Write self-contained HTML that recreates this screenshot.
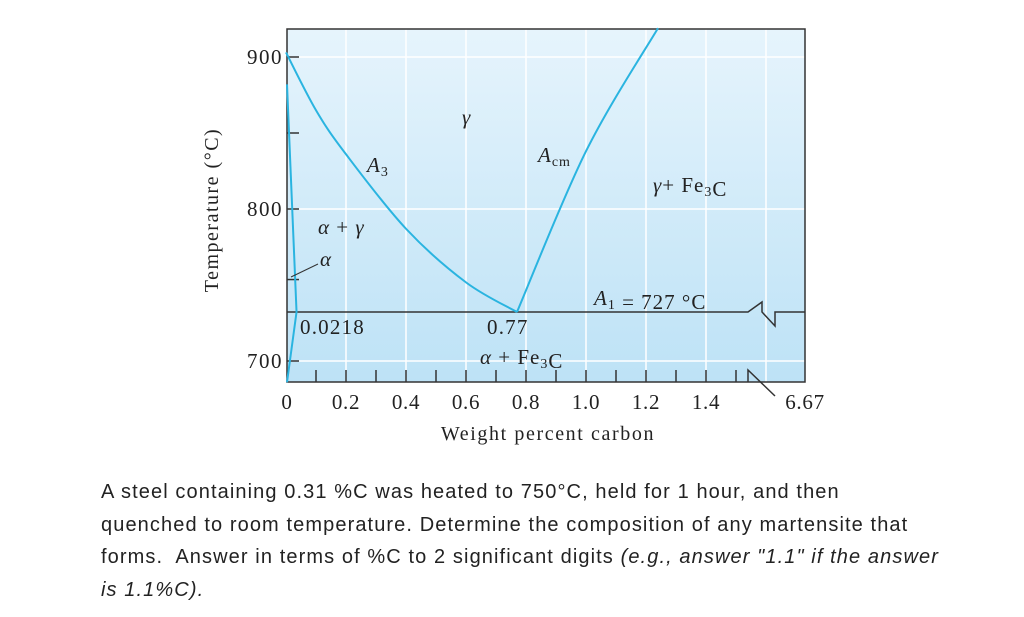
<!DOCTYPE html>
<html><head><meta charset="utf-8"><style>
body{margin:0;background:#fff;width:1024px;height:617px;overflow:hidden;position:relative}
svg{position:absolute;left:0;top:0}
.q{position:absolute;left:101px;top:476px;width:900px;font-family:"Liberation Sans",sans-serif;font-size:20px;letter-spacing:1.1px;line-height:32.5px;color:#222;white-space:nowrap}
</style></head><body>
<svg width="1024" height="470" font-family="Liberation Serif, serif">
<defs><linearGradient id="bg" x1="0" y1="0" x2="0" y2="1"><stop offset="0" stop-color="#e6f4fc"/><stop offset="1" stop-color="#bde2f6"/></linearGradient></defs>
<g id="plot"></g>
</svg>
<div class="q">A steel containing 0.31 %C was heated to 750°C, held for 1 hour, and then<br>quenched to room temperature. Determine the composition of any martensite that<br>forms.&nbsp; Answer in terms of %C to 2 significant digits <i>(e.g., answer "1.1" if the answer<br>is 1.1%C).</i></div>
<script>
const yTicks=[700,800,900];
const xTicks=[0,0.2,0.4,0.6,0.8,1.0,1.2,1.4];
const a3C=[0,0.1,0.2,0.4,0.6,0.77];
const a3T=[903,865,836,786,748,727];
const acmC=[0.77,1.0,1.24];
const acmT=[727,838,919];
const alphaC=[0,0.0218,0];
const alphaT=[882,727,686];
const eutectoidT=727;
const X=c=>286+300*c;
// piecewise-linear temperature axis (source diagram is not linear)
const yKnotsT=[600,700,727,800,1000];
const yKnotsP=[513,361,312,209,-95];
const Y=t=>{for(let i=0;i<yKnotsT.length-1;i++){if(t<=yKnotsT[i+1]||i===yKnotsT.length-2){const f=(t-yKnotsT[i])/(yKnotsT[i+1]-yKnotsT[i]);return yKnotsP[i]+f*(yKnotsP[i+1]-yKnotsP[i]);}}};
const L=287,R=805,T=29,B=382;
const g=document.getElementById('plot');
const NS='http://www.w3.org/2000/svg';
function mk(tag,attrs,text,parent){const e=document.createElementNS(NS,tag);for(const k in attrs)e.setAttribute(k,attrs[k]);if(text!==undefined)e.textContent=text;(parent||g).appendChild(e);return e;}
let e;
e=mk('rect',{x:L,y:T,width:R-L,height:B-T,fill:'url(#bg)'});


for(let c=0.2;c<1.7;c+=0.2){e=mk('line',{x1:X(c),x2:X(c),y1:T,y2:B,stroke:'#fff','stroke-width':1.5});

}
yTicks.forEach(t=>{e=mk('line',{x1:L,x2:R,y1:Y(t),y2:Y(t),stroke:'#fff','stroke-width':1.5});


e=mk('line',{x1:L,x2:L+12,y1:Y(t),y2:Y(t),stroke:'#333','stroke-width':1.5});


e=mk('text',{x:L-4,y:Y(t)+7,'text-anchor':'end','font-size':21,'letter-spacing':1.5,fill:'#222'},String(t));

});
[750,850].forEach(t=>{e=mk('line',{x1:L,x2:L+12,y1:Y(t),y2:Y(t),stroke:'#333','stroke-width':1.5});

});
for(let i=1;i<=15;i++){e=mk('line',{x1:X(i/10),x2:X(i/10),y1:B,y2:B-12,stroke:'#333','stroke-width':1.5});

}
xTicks.forEach(c=>{e=mk('text',{x:X(c)+(c===0?1:0),y:409,'text-anchor':'middle','font-size':21,'letter-spacing':0.7,fill:'#222'},c===0?'0':c.toFixed(1));

});
e=mk('text',{x:805,y:409,'text-anchor':'middle','font-size':21,'letter-spacing':0.7,fill:'#222'},'6.67');


function poly(cs,ts,name){const pts=cs.map((c,i)=>[X(c),Y(ts[i])]);
let d='M'+pts[0].join(',');
for(let i=1;i<pts.length;i++){const p0=pts[Math.max(0,i-2)],p1=pts[i-1],p2=pts[i],p3=pts[Math.min(pts.length-1,i+1)];
d+=` C${p1[0]+(p2[0]-p0[0])/6},${p1[1]+(p2[1]-p0[1])/6} ${p2[0]-(p3[0]-p1[0])/6},${p2[1]-(p3[1]-p1[1])/6} ${p2[0]},${p2[1]}`;}
e=mk('path',{d:d,fill:'none',stroke:'#2ab4e0','stroke-width':2});

}
const ey=Y(eutectoidT);
e=mk('path',{d:`M${L},${ey} H748 L762,${ey-10} L762,${ey} L775,${ey+14} L775,${ey} H${R}`,fill:'none',stroke:'#333','stroke-width':1.5});


e=mk('path',{d:`M748,${B} L748,${B-12} L775,${B+14}`,fill:'none',stroke:'#333','stroke-width':1.5});


e=mk('rect',{x:L,y:T,width:R-L,height:B-T,fill:'none',stroke:'#333','stroke-width':1.5});


poly(a3C,a3T,'a3-curve');
poly(acmC,acmT,'acm-curve');
e=mk('polyline',{points:alphaC.map((c,i)=>(X(c)+(i===1?4:1))+','+Y(alphaT[i])).join(' '),fill:'none',stroke:'#2ab4e0','stroke-width':2});


e=mk('line',{x1:291,y1:277,x2:318,y2:264,stroke:'#333','stroke-width':1});


const labels=[
[462,124,[['γ',1]],'gamma-label'],
[367,172,[['A',1],['3',0,1]],'a3-label'],
[538,162,[['A',1],['cm',0,1]],'acm-label'],
[653,192,[['γ',1],['+ Fe',0],['3',0,1],['C',0]],'gamma-fe3c-label'],
[318,234,[['α',1],[' + ',0],['γ',1]],'alpha-gamma-label'],
[320,266,[['α',1]],'alpha-label'],
[594,305,[['A',1],['1',0,1],[' = 727 °C',0]],'a1-label'],
[480,364,[['α',1],[' + Fe',0],['3',0,1],['C',0]],'alpha-fe3c-label']];
labels.forEach(l=>{e=mk('text',{x:l[0],y:l[1],'font-size':21,'letter-spacing':1,fill:'#222'});


l[2].forEach(p=>{const a={};if(p[1])a['font-style']='italic';if(p[2]){a['font-size']=14;a['dy']=4;}mk('tspan',a,p[0],e);if(p[2]){mk('tspan',{dy:-4},'',e);}});});
e=mk('text',{x:300,y:334,'font-size':21,'letter-spacing':1.2,fill:'#222'},'0.0218');


e=mk('text',{x:487,y:334,'font-size':21,'letter-spacing':1.2,fill:'#222'},'0.77');


e=mk('text',{x:548,y:440,'text-anchor':'middle','font-size':20,'letter-spacing':1.6,fill:'#222'},'Weight percent carbon');


e=mk('text',{x:0,y:0,'text-anchor':'middle','font-size':20,'letter-spacing':1.5,fill:'#222',transform:'translate(218,210) rotate(-90)'},'Temperature (°C)');


</script>
</body></html>
